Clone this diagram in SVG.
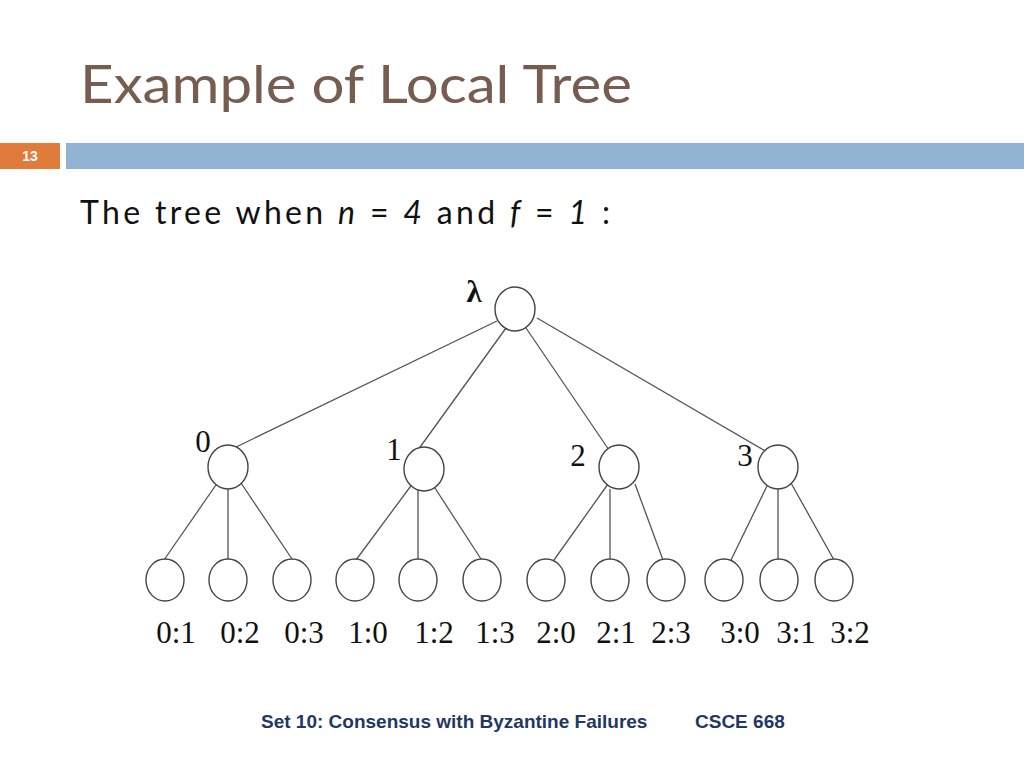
<svg xmlns="http://www.w3.org/2000/svg" width="1024" height="768" viewBox="0 0 1024 768">
<style>
.n{fill:#fff;stroke:#444;stroke-width:1.4}
.e{stroke:#555;stroke-width:1.3;fill:none}
.l{font-family:"Liberation Serif",serif;font-size:31px;fill:#111;text-anchor:middle}
</style>
<rect width="1024" height="768" fill="#fff"/>
<text x="80" y="103" font-family="Lato,'Open Sans',sans-serif" font-size="52" fill="#775D50" textLength="552" lengthAdjust="spacingAndGlyphs">Example of Local Tree</text>
<rect x="0" y="143" width="60" height="26" fill="#E07B3C"/>
<text x="30" y="161" font-family="'Liberation Sans',sans-serif" font-size="14" font-weight="bold" fill="#fff" text-anchor="middle">13</text>
<rect x="66" y="143" width="958" height="26" fill="#93B3D3"/>
<text x="80" y="224" font-family="Lato,'Open Sans',sans-serif" font-size="32" fill="#111" textLength="530" lengthAdjust="spacing">The tree when <tspan font-style="italic">n</tspan> = <tspan font-style="italic">4</tspan> and <tspan font-style="italic">f</tspan> = <tspan font-style="italic">1</tspan> :</text>
<g id="connectors">
<path class="e" d="M497 321L234 448M506 328L418 450M526 328L609 450M537 318L767 452"/>
<path class="e" d="M218 482L164 560M228 489L228 559M241 483L292 559"/>
<path class="e" d="M413 483L356 560M418 489L418 559M433 485L481 559"/>
<path class="e" d="M608 484L554 560M610 489L610 559M635 484L663 560"/>
<path class="e" d="M768 484L731 560M778 489L778 559M791 483L834 560"/>
</g>
<g id="root"><ellipse class="n" cx="515" cy="309" rx="20" ry="22"/><text class="l" x="474" y="302" font-weight="bold">λ</text></g>
<g id="n0"><ellipse class="n" cx="228" cy="467" rx="20" ry="22"/><text class="l" x="203" y="452">0</text></g>
<g id="n1"><ellipse class="n" cx="424" cy="469" rx="20" ry="22"/><text class="l" x="394" y="460">1</text></g>
<g id="n2"><ellipse class="n" cx="619" cy="467" rx="20" ry="22"/><text class="l" x="578" y="466">2</text></g>
<g id="n3"><ellipse class="n" cx="778" cy="467" rx="20" ry="22"/><text class="l" x="745" y="466">3</text></g>
<g id="l01"><ellipse class="n" cx="165" cy="580" rx="19" ry="21"/><text class="l" x="176" y="643">0:1</text></g>
<g id="l02"><ellipse class="n" cx="228" cy="580" rx="19" ry="21"/><text class="l" x="240" y="643">0:2</text></g>
<g id="l03"><ellipse class="n" cx="292" cy="580" rx="19" ry="21"/><text class="l" x="304" y="643">0:3</text></g>
<g id="l10"><ellipse class="n" cx="355" cy="580" rx="19" ry="21"/><text class="l" x="368" y="643">1:0</text></g>
<g id="l12"><ellipse class="n" cx="418" cy="580" rx="19" ry="21"/><text class="l" x="434" y="643">1:2</text></g>
<g id="l13"><ellipse class="n" cx="482" cy="580" rx="19" ry="21"/><text class="l" x="495" y="643">1:3</text></g>
<g id="l20"><ellipse class="n" cx="546" cy="580" rx="19" ry="21"/><text class="l" x="556" y="643">2:0</text></g>
<g id="l21"><ellipse class="n" cx="610" cy="580" rx="19" ry="21"/><text class="l" x="616" y="643">2:1</text></g>
<g id="l23"><ellipse class="n" cx="666" cy="580" rx="19" ry="21"/><text class="l" x="671" y="643">2:3</text></g>
<g id="l30"><ellipse class="n" cx="724" cy="580" rx="19" ry="21"/><text class="l" x="740" y="643">3:0</text></g>
<g id="l31"><ellipse class="n" cx="779" cy="580" rx="19" ry="21"/><text class="l" x="796" y="643">3:1</text></g>
<g id="l32"><ellipse class="n" cx="834" cy="580" rx="19" ry="21"/><text class="l" x="850" y="643">3:2</text></g>
<g font-family="'Liberation Sans',sans-serif" font-size="19" font-weight="bold" fill="#1F3864">
<text x="261" y="728">Set 10: Consensus with Byzantine Failures</text>
<text x="695" y="728">CSCE 668</text>
</g>
</svg>
